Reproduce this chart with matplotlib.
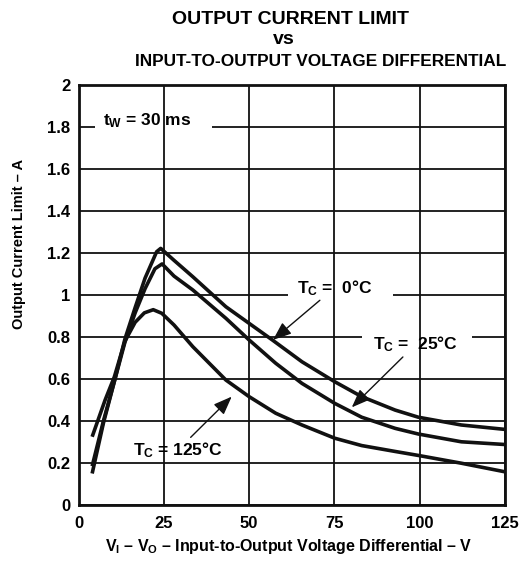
import matplotlib
matplotlib.use("Agg")
import matplotlib.pyplot as plt
from matplotlib.patches import Rectangle

plt.rcParams['font.family'] = ['Liberation Sans', 'DejaVu Sans']
plt.rcParams['font.weight'] = 'bold'
plt.rcParams['mathtext.fontset'] = 'custom'
for k in ['rm', 'it', 'bf', 'sf']:
    plt.rcParams['mathtext.' + k] = 'Liberation Sans:bold'

# ---- data ----
v_0C = [4, 7.3, 10.7, 13.6, 16.6, 19.5, 22.9, 24.1, 28, 33.5, 43.2, 50, 56.8, 65.5, 75.1, 83,
        92.8, 99.6, 112.2, 125]
i_0C = [0.15, 0.39, 0.60, 0.79, 0.94, 1.08, 1.206, 1.222, 1.165, 1.087, 0.944, 0.865, 0.786,
        0.682, 0.587, 0.516, 0.452, 0.418, 0.381, 0.36]

v_25C = [4, 7.3, 10.7, 13.6, 16.6, 19.5, 22.4, 24.5, 28, 33.5, 43.2, 50, 57.8, 65.5, 75.1, 83,
         92.8, 99.6, 112.2, 125]
i_25C = [0.185, 0.40, 0.60, 0.775, 0.915, 1.03, 1.125, 1.148, 1.09, 1.024, 0.889, 0.786, 0.675,
         0.579, 0.484, 0.418, 0.365, 0.338, 0.301, 0.288]

v_125C = [4, 7.8, 10.5, 13.6, 16.6, 19.3, 21.9, 24.4, 28, 33.5, 43.2, 50, 57.8, 65.5, 75.1, 83,
          92.8, 99.6, 112.2, 125]
i_125C = [0.325, 0.5, 0.61, 0.78, 0.87, 0.915, 0.93, 0.913, 0.857, 0.754, 0.595, 0.516, 0.437,
          0.381, 0.318, 0.283, 0.255, 0.236, 0.199, 0.158]

x_ticks = [0, 25, 50, 75, 100, 125]
y_ticks = [0, 0.2, 0.4, 0.6, 0.8, 1.0, 1.2, 1.4, 1.6, 1.8, 2.0]
y_tick_labels = ['0', '0.2', '0.4', '0.6', '0.8', '1', '1.2', '1.4', '1.6', '1.8', '2']

# ---- figure ----
fig = plt.figure(figsize=(5.26, 5.66), dpi=100)
ax = fig.add_axes([78.5 / 526, 1 - 505 / 566, (505 - 78.5) / 526, (505 - 85) / 566])

ax.set_xlim(0, 125)
ax.set_ylim(0, 2)
ax.set_xticks(x_ticks)
ax.set_yticks(y_ticks)
ax.set_yticklabels(y_tick_labels)
ax.tick_params(length=0, labelsize=12, pad=6)
ax.tick_params(axis='x', pad=8)
for lab in ax.get_xticklabels() + ax.get_yticklabels():
    lab.set_fontweight('bold')

ax.grid(True, color='#111111', linewidth=1.3)
ax.yaxis.set_zorder(1.0)
ax.xaxis.set_zorder(2.0)
for sp in ax.spines.values():
    sp.set_linewidth(2.0)
    sp.set_color('#111111')

# gaps in horizontal gridlines behind labels
for (x0, x1, yc) in [(4.8, 39.2, 1.8), (61.4, 92.2, 1.0), (83.1, 115.4, 0.8)]:
    ax.add_patch(Rectangle((x0, yc - 0.02), x1 - x0, 0.04, facecolor='white',
                           edgecolor='none', zorder=1.5))

lw = 2.6
for vx, iy in [(v_0C, i_0C), (v_25C, i_25C), (v_125C, i_125C)]:
    ax.plot(vx, iy, color='#111111', lw=lw, zorder=3, solid_joinstyle='round',
            solid_capstyle='butt')

fs = 12.5
ax.text(7.2, 1.83, r'$t_W$ = 30 ms', fontsize=fs, fontweight='bold', va='center', ha='left', zorder=4)
arrow = dict(arrowstyle='-|>,head_length=0.9,head_width=0.35', color='#111111', lw=1.0,
             shrinkA=0, shrinkB=0)
ax.annotate(r'$T_C$ =  0°C', xy=(57.0, 0.786), xytext=(64.1, 1.035), fontsize=fs, fontweight='bold',
            va='center', ha='left', zorder=4, arrowprops=arrow)
ax.annotate(r'$T_C$ =  25°C', xy=(80.1, 0.465), xytext=(86.4, 0.765), fontsize=fs, fontweight='bold',
            va='center', ha='left', zorder=4, arrowprops=arrow)
ax.annotate(r'$T_C$ = 125°C', xy=(44.9, 0.516), xytext=(16.0, 0.262), fontsize=fs, fontweight='bold',
            va='center', ha='left', zorder=4, arrowprops=arrow)

# titles
fig.text(290 / 526, 1 - 20 / 566, 'OUTPUT CURRENT LIMIT', fontsize=14, fontweight='bold',
         ha='center', va='center')
fig.text(284 / 526, 1 - 40 / 566, 'vs', fontsize=14, fontweight='bold', ha='center', va='center')
fig.text(321 / 526, 1 - 61 / 566, 'INPUT-TO-OUTPUT VOLTAGE DIFFERENTIAL', fontsize=12.4,
         fontweight='bold', ha='center', va='center')

fig.text(289 / 526, 1 - 547 / 566, r'$V_I$ – $V_O$ – Input-to-Output Voltage Differential – V',
         fontsize=11.5, fontweight='bold', ha='center', va='center')
fig.text(19 / 526, 1 - 244 / 566, 'Output Current Limit – A', fontsize=10.5, fontweight='bold',
         ha='center', va='center', rotation=90)

fig.savefig('out.png', dpi=100, facecolor='white')
